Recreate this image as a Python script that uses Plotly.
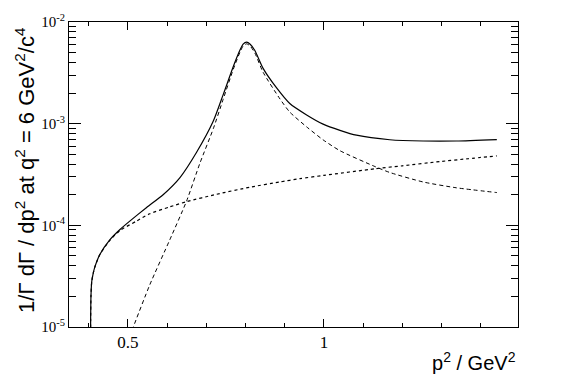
import plotly.graph_objects as go

# data (p^2 in GeV^2, rate in GeV^-2)
x_total = [0.4048, 0.4052, 0.406, 0.408, 0.412, 0.416, 0.429, 0.454, 0.480, 0.505, 0.548,
           0.590, 0.633, 0.675, 0.718, 0.743, 0.769, 0.786, 0.794, 0.803, 0.812, 0.824,
           0.845, 0.879, 0.913, 0.956, 0.998, 1.041, 1.083, 1.168, 1.253, 1.338, 1.441]
y_total = [5e-6, 1.2e-5, 2.0e-5, 2.8e-5, 3.4e-5, 3.9e-5, 5.2e-5, 7.2e-5, 9.1e-5, 1.10e-4, 1.50e-4,
           2.00e-4, 2.95e-4, 5.2e-4, 1.06e-3, 1.92e-3, 3.65e-3, 5.30e-3, 6.05e-3, 6.34e-3, 6.05e-3, 5.25e-3,
           3.50e-3, 2.26e-3, 1.58e-3, 1.22e-3, 9.9e-4, 8.6e-4, 7.7e-4, 6.95e-4, 6.75e-4, 6.75e-4, 6.98e-4]

x_res = [0.505, 0.514, 0.556, 0.607, 0.650, 0.684, 0.718, 0.743, 0.769, 0.786, 0.794, 0.803,
         0.812, 0.824, 0.845, 0.888, 0.913, 0.956, 0.998, 1.041, 1.130, 1.168, 1.253, 1.338, 1.441]
y_res = [8e-6, 1.0e-5, 2.6e-5, 7.2e-5, 1.74e-4, 4.1e-4, 8.93e-4, 1.73e-3, 3.43e-3, 5.05e-3, 5.80e-3, 6.10e-3,
         5.80e-3, 4.95e-3, 3.20e-3, 1.75e-3, 1.30e-3, 9.3e-4, 6.93e-4, 5.42e-4, 3.79e-4, 3.31e-4, 2.67e-4, 2.34e-4, 2.10e-4]

x_bkg = [0.4048, 0.4052, 0.406, 0.408, 0.412, 0.416, 0.429, 0.454, 0.480, 0.522, 0.556, 0.607,
         0.650, 0.726, 0.811, 0.888, 0.939, 1.0, 1.130, 1.2, 1.296, 1.368, 1.441]
y_bkg = [5e-6, 1.2e-5, 2.0e-5, 2.8e-5, 3.4e-5, 3.9e-5, 5.2e-5, 7.1e-5, 8.9e-5, 1.10e-4, 1.30e-4, 1.52e-4,
         1.71e-4, 2.02e-4, 2.37e-4, 2.67e-4, 2.88e-4, 3.1e-4, 3.6e-4, 3.85e-4, 4.24e-4, 4.52e-4, 4.82e-4]

y_ticks = [1e-5, 1e-4, 1e-3, 1e-2]
y_ticktext = ["10<sup>-5</sup>", "10<sup>-4</sup>", "10<sup>-3</sup>", "10<sup>-2</sup>"]
y_minor = [m * 10.0 ** e for e in (-5, -4, -3) for m in range(2, 10)]

sp = "\u00a0"
y_title = ("1/Γ" + sp + "dΓ" + sp + "/" + sp + "dp<sup>2</sup>" + sp + "at" + sp + "q<sup>2</sup>"
           + sp + "=" + sp + "6" + sp + "GeV<sup>2</sup>/c<sup>4</sup>")

fig = go.Figure()
fig.add_trace(go.Scatter(x=x_bkg, y=y_bkg, mode="lines", line=dict(color="black", width=1.2, dash="dot", shape="spline", smoothing=0.6)))
fig.add_trace(go.Scatter(x=x_res, y=y_res, mode="lines", line=dict(color="black", width=1, dash="4px,3px", shape="spline", smoothing=0.6)))
fig.add_trace(go.Scatter(x=x_total, y=y_total, mode="lines", line=dict(color="black", width=1.2, shape="spline", smoothing=0.6)))

fig.update_layout(
    width=576, height=390,
    margin=dict(l=69, r=58, t=19, b=63),
    paper_bgcolor="white", plot_bgcolor="white",
    showlegend=False,
    xaxis=dict(range=[0.35, 1.495], tickmode="linear", tick0=0, dtick=0.5,
               ticks="inside", ticklen=8, tickcolor="black", showline=True, linecolor="black",
               linewidth=1, mirror="ticks", showgrid=False, zeroline=False,
               tickfont=dict(family="Liberation Serif", size=17, color="black"),
               minor=dict(dtick=0.1, tick0=0, ticks="inside", ticklen=4, tickcolor="black", showgrid=False)),
    yaxis=dict(type="log", range=[-5, -2], tickmode="array", tickvals=y_ticks, ticktext=y_ticktext,
               ticks="inside", ticklen=12, tickcolor="black", showline=True, linecolor="black",
               linewidth=1, mirror="ticks", showgrid=False, zeroline=False,
               tickfont=dict(family="Liberation Serif", size=15, color="black"),
               minor=dict(tickvals=y_minor, ticks="inside", ticklen=7, tickcolor="black", showgrid=False)),
    annotations=[
        dict(text=y_title, xref="paper", yref="paper", x=-0.098, y=0.515, textangle=-90, showarrow=False,
             xanchor="center", yanchor="middle",
             font=dict(family="Liberation Sans", size=22, color="black")),
        dict(text="p<sup>2</sup> / GeV<sup>2</sup>", xref="paper", yref="paper", x=1.0, y=-0.114,
             xanchor="right", yanchor="middle", showarrow=False,
             font=dict(family="Liberation Sans", size=20, color="black")),
    ],
)

# drop the default 8px page margin so the figure sits at the window corner
fig.write_html("out.html", config={"displayModeBar": False},
               post_script="document.body.style.margin='0';")
